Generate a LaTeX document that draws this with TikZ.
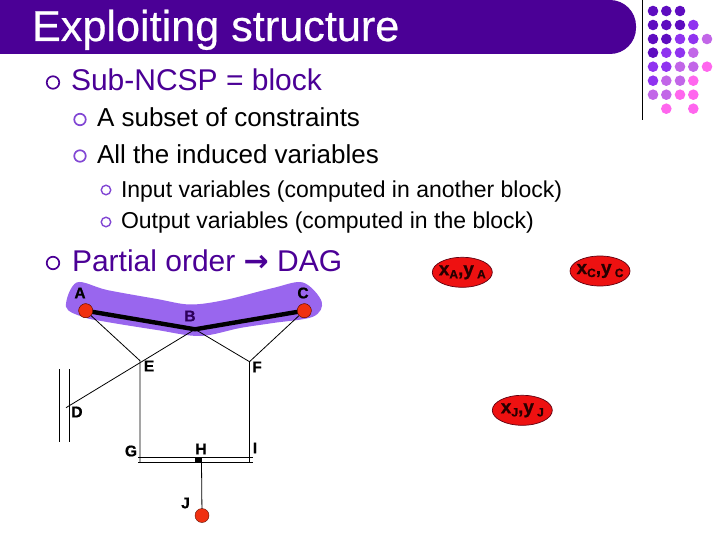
\documentclass[tikz,border=0pt]{standalone}
\usepackage{fontspec}
\setmainfont{Liberation Sans}
\newfontfamily\arrowfont{DejaVu Sans Bold}
\newfontfamily\heavyfont[FakeBold=0.8]{Liberation Sans Bold}
\newfontfamily\titlefont[FakeBold=0.5]{Liberation Sans}
\definecolor{banner}{HTML}{4B0096}
\definecolor{blob}{HTML}{9966EE}
\definecolor{dotA}{HTML}{5E0CC0}
\definecolor{dotB}{HTML}{9033F0}
\definecolor{dotC}{HTML}{C266E8}
\definecolor{dotD}{HTML}{FF66EE}
\definecolor{nodeRed}{HTML}{F03010}
\definecolor{ellRed}{HTML}{EE1111}
\definecolor{ellLine}{HTML}{600010}
\usetikzlibrary{shapes.geometric}
\tikzset{
  x=1pt,y=-1pt,
  every node/.style={inner sep=0pt,outer sep=0pt},
  lvlA/.style={anchor=base west,font=\fontsize{30}{32}\selectfont,text=banner},
  lvlB/.style={anchor=base west,font=\fontsize{26}{28}\selectfont,text=black},
  lvlC/.style={anchor=base west,font=\fontsize{23}{25}\selectfont,text=black},
  ringA/.style={circle,draw=banner,line width=1.7pt,fill=white,minimum size=12.5pt},
  ringB/.style={circle,draw=blob!70!banner,line width=1.7pt,fill=white,minimum size=11.5pt},
  ringC/.style={circle,draw=blob!70!banner,line width=1.4pt,fill=white,minimum size=9.5pt},
  vertexdot/.style={circle,fill=nodeRed,draw=black!60!nodeRed,line width=.4pt,minimum size=14pt},
  thinline/.style={line width=.8pt,black},
  thickline/.style={line width=4.4pt,black},
  lbl/.style={font=\heavyfont\fontsize{15.5}{17}\selectfont,text=black},
  ell/.style={ellipse,draw=ellLine,line width=.7pt,fill=ellRed,minimum width=60pt,minimum height=30pt,inner sep=-12pt}
}
\newcommand{\ellab}[1]{\heavyfont\fontsize{19}{19}\selectfont\textcolor{black!85!red}{x\raisebox{-3pt}{\fontsize{12}{12}\selectfont #1},y\,\raisebox{-3pt}{\fontsize{12}{12}\selectfont #1}}}
\begin{document}
\begin{tikzpicture}
\useasboundingbox (0,0) rectangle (720,540);
\fill[white] (0,0) rectangle (720,540);
% banner
\fill[banner] (0,0) -- (610,0) arc[start angle=90,end angle=0,x radius=26,y radius=-26]
  -- (636,28) arc[start angle=0,end angle=-90,x radius=26,y radius=-26] -- (0,54) -- cycle;
\node[anchor=base west,text=white,font=\titlefont\fontsize{43.2}{45}\selectfont] (title) at (32,41) {Exploiting structure};
% decor
\draw[line width=1pt,black] (642,0) -- (642,120);
\foreach \col/\row/\c in {653/11/dotA,666.3/11/dotA,680/11/dotA,
  653/25/dotA,666.3/25/dotA,680/25/dotA,693.3/25/dotB,
  653/39/dotA,666.3/39/dotA,680/39/dotB,693.3/39/dotB,707/39/dotC,
  653/52.7/dotA,666.3/52.7/dotB,680/52.7/dotB,693.3/52.7/dotC,
  653/66.7/dotB,666.3/66.7/dotB,680/66.7/dotC,693.3/66.7/dotC,707/66.7/dotD,
  653/80.7/dotB,666.3/80.7/dotC,680/80.7/dotC,693.3/80.7/dotD,
  653/94.7/dotC,666.3/94.7/dotC,680/94.7/dotD,693.3/94.7/dotD,
  666.3/108.7/dotD,693.3/108.7/dotD}
  \fill[\c] (\col,\row) circle[radius=5.3];
% bullets and text
\node[ringA] (b1) at (53,82.5) {};
\node[lvlA] (t1) at (71,91) {Sub-NCSP = block};
\node[ringB] (b2) at (80,119.5) {};
\node[lvlB] (t2) at (97,127) {A subset of constraints};
\node[ringB] (b3) at (80,156) {};
\node[lvlB] (t3) at (97,164) {All the induced variables};
\node[ringC] (b4) at (106,190) {};
\node[lvlC] (t4) at (121,197) {Input variables (computed in another block)};
\node[ringC] (b5) at (106,222) {};
\node[lvlC] (t5) at (121,229) {Output variables (computed in the block)};
\node[ringA] (b6) at (53,263) {};
\node[lvlA] (t6) at (72,271) {Partial order {\arrowfont\fontsize{30}{32}\selectfont →} DAG};
% blob
\fill[blob] plot[smooth cycle,tension=.55] coordinates {(76.7,282.5)(107,290)(157,299)(190,304.5)(225,300)(273,288)(303,282.5)(321.7,301.7)(313,316.7)(273,323)(240,328)(200,336)(157,330)(107,322)(83,317)(66,306.7)};
% graph
\node[vertexdot] (A) at (85.7,310.7) {};
\node[vertexdot] (C) at (304.3,310.7) {};
\node[vertexdot] (J) at (202,515.5) {};
\coordinate (B) at (195,329.3);
\coordinate (E) at (140,360.7);
\coordinate (F) at (249.5,361.7);
\coordinate (Dend) at (66,407.7);
\coordinate (Vat) at (59.3,369);
\coordinate (Vab) at (59.3,442);
\coordinate (Vbt) at (69.7,369);
\coordinate (Vbb) at (69.7,442);
\coordinate (Eb) at (140,462.3);
\coordinate (Fb) at (249.5,462.3);
\coordinate (Hl) at (138,457.3);
\coordinate (Hr) at (253,457.3);
\coordinate (Il) at (138,462.3);
\coordinate (Ir) at (253,462.3);
\coordinate (Hb) at (201.5,462.3);
\draw[thickline] (A.center) -- (B) -- (C.center);
\draw[thinline] (A) -- (E) -- (Eb);
\draw[thinline] (C) -- (F) -- (Fb);
\draw[thinline] (B) -- (F);
\draw[thinline] (B) -- (Dend);
\draw[thinline] (Vat) -- (Vab);
\draw[thinline] (Vbt) -- (Vbb);
\draw[thinline] (Hl) -- (Hr);
\draw[thinline] (Il) -- (Ir);
\draw[thinline] (Hb) -- (J);
\node[fill=black,minimum width=7pt,minimum height=5pt] (Hsq) at (198.5,460) {};
\node[vertexdot] at (A) {};
\node[vertexdot] at (C) {};
\node[lbl] (lA) at (80,293) {A};
\node[lbl] (lC) at (303,293) {C};
\node[lbl,text=banner!60!black] (lB) at (190,316) {B};
\node[lbl] (lE) at (149,366) {E};
\node[lbl] (lF) at (257,367) {F};
\node[lbl] (lD) at (77,412) {D};
\node[lbl] (lG) at (131,451) {G};
\node[lbl] (lH) at (201,449) {H};
\node[lbl] (lI) at (255,448) {I};
\node[lbl] (lJ) at (185.5,503) {J};
% ellipses
\node[ell] (xa) at (462.3,272.3) {\ellab{A}};
\node[ell] (xc) at (600,271) {\ellab{C}};
\node[ell] (xj) at (522.3,410.3) {\ellab{J}};
\end{tikzpicture}
\end{document}
